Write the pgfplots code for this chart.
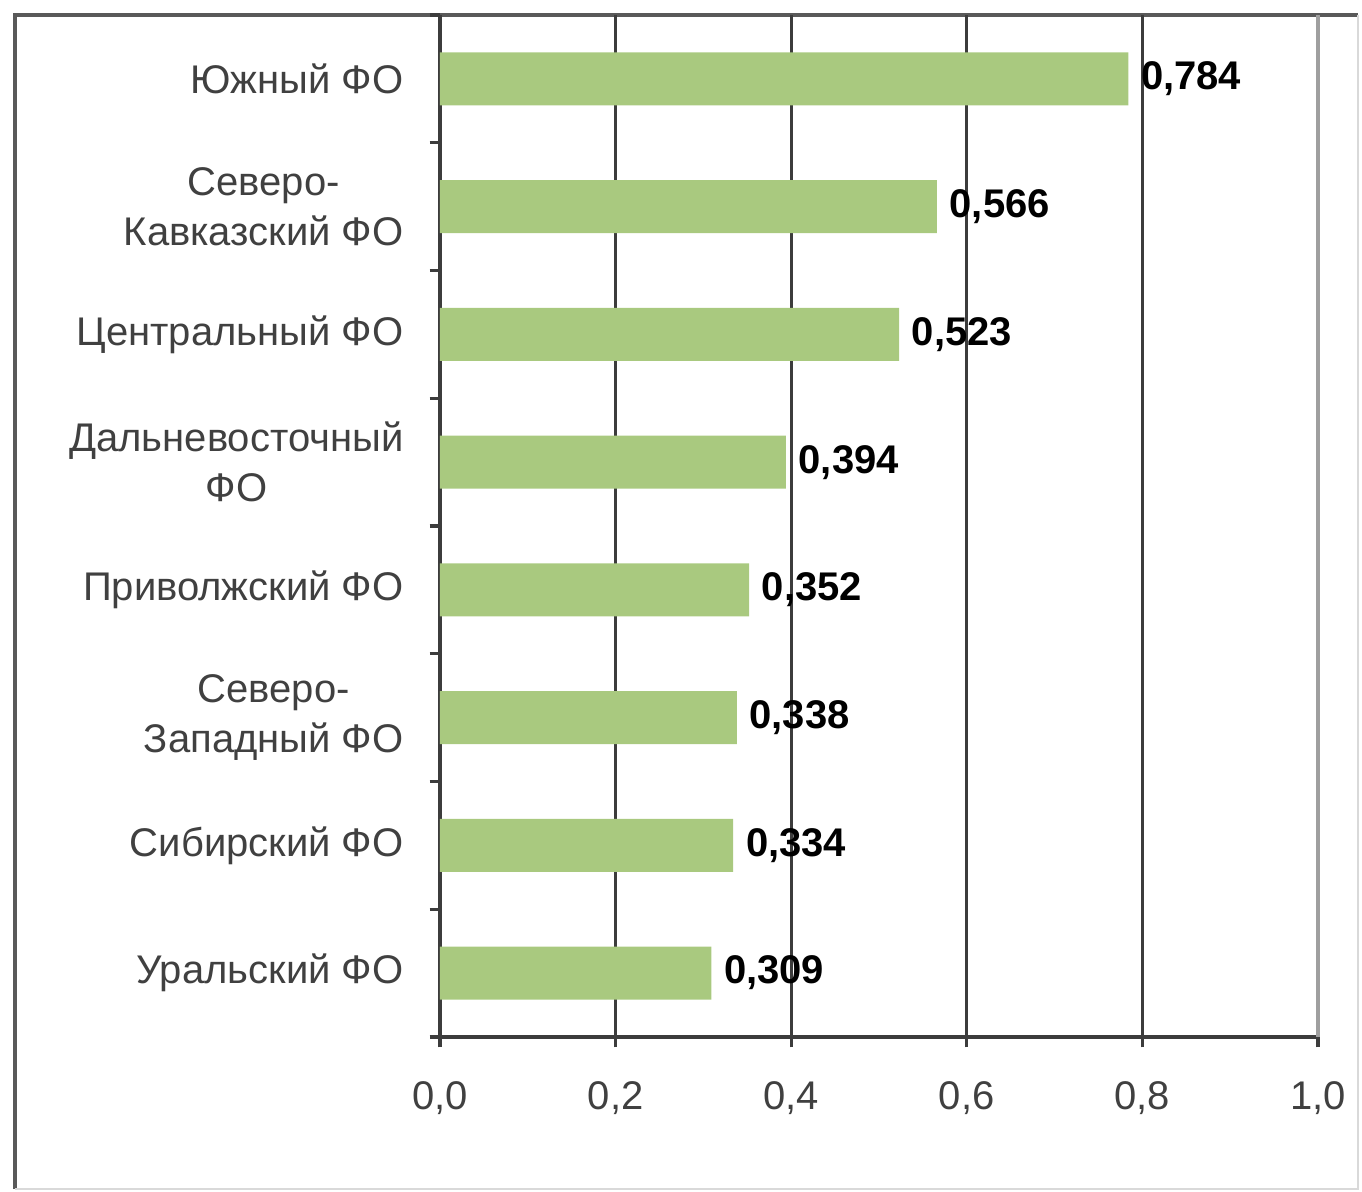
\documentclass[border=0pt]{standalone}
\usepackage{pgfplots}
\pgfplotsset{compat=1.18}
\usepackage{fontspec}
\setmainfont{Liberation Sans}
\definecolor{bargreen}{HTML}{A9C97F}
\definecolor{linegray}{HTML}{3C3C3C}
\definecolor{txtgray}{HTML}{404040}
\begin{document}
\begin{tikzpicture}
\useasboundingbox (-110pt,-38.5pt) rectangle (230.5pt,259.25pt);
% outer frame
\draw[line width=1pt, color=linegray!85] (-106.25pt,-38pt) -- (-106.25pt,255.5pt) -- (229.5pt,255.5pt);
\draw[line width=0.6pt, color=gray!30] (229.5pt,255.5pt) -- (229.5pt,-38pt) -- (-106.25pt,-38pt);
\begin{axis}[
  at={(0,0)}, anchor=south west,
  scale only axis,
  width=219.5pt, height=255.5pt,
  xbar, bar width=13.25pt,
  xmin=0, xmax=1, ymin=-0.5, ymax=7.5,
  axis x line*=bottom, axis y line*=left,
  axis line style={linegray, line width=0.8pt},
  xtick={0,0.2,...,1.0},
  xmajorgrids,
  grid style={linegray, line width=0.8pt},
  ytick={-0.5,0.5,1.5,2.5,3.5,4.5,5.5,6.5,7.5},
  y tick label as interval,
  yticklabels={Уральский ФО,Сибирский ФО,Северо-\\Западный ФО,Приволжский ФО,Дальневосточный\\ФО,Центральный ФО,Северо-\\Кавказский ФО,Южный ФО},
  tick align=outside,
  major tick length=2.6pt,
  tick style={linegray, line width=0.8pt},
  yticklabel style={align=center, font=\fontsize{10}{12.5}\selectfont, text=txtgray, xshift=-3pt},
  xticklabel style={font=\fontsize{10}{12}\selectfont, text=txtgray, yshift=-5pt},
  /pgf/number format/.cd, fixed, fixed zerofill, precision=1, use comma, assume math mode=true,
  /pgfplots/.cd,
  nodes near coords,
  nodes near coords style={anchor=west, font=\bfseries\fontsize{10}{12}\selectfont, text=black, inner sep=3pt,
    /pgf/number format/.cd, fixed, fixed zerofill, precision=3, use comma, assume math mode=true},
  clip=false,
]
\addplot[fill=bargreen, draw=none] coordinates {
  (0.309,0) (0.334,1) (0.338,2) (0.352,3) (0.394,4) (0.523,5) (0.566,6) (0.784,7)
};
\draw[line width=0.8pt, color=gray!75] (axis cs:1,-0.5) -- (axis cs:1,7.5);
\end{axis}
\end{tikzpicture}
\end{document}
